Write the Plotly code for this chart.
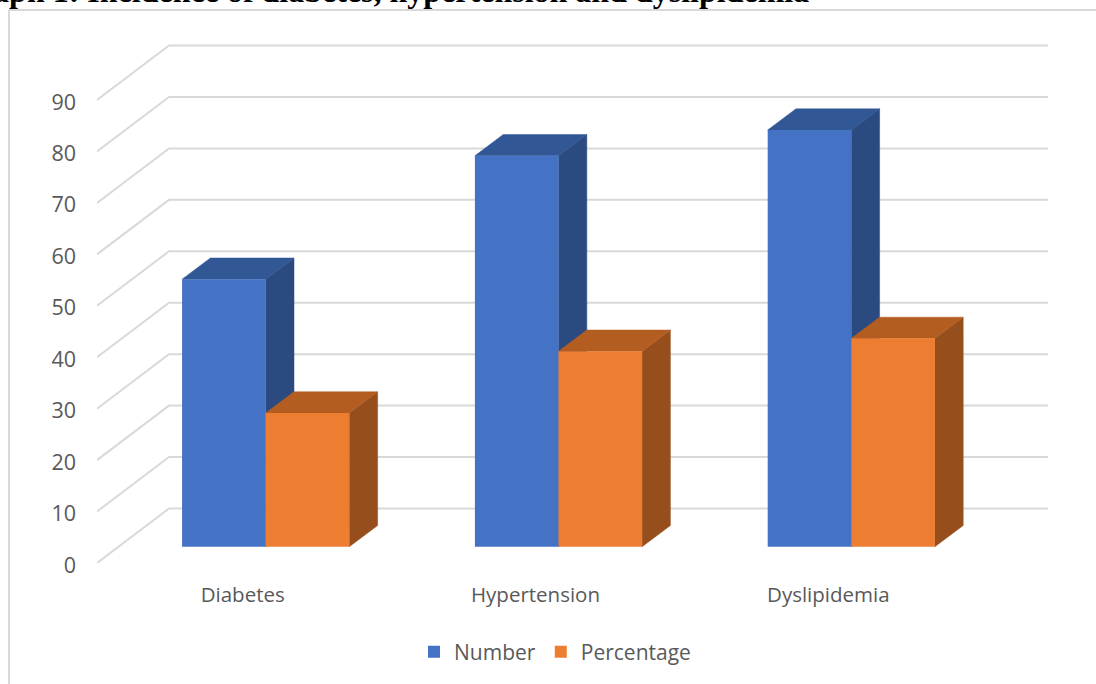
import plotly.graph_objects as go

# Chart data
categories = ["Diabetes", "Hypertension", "Dyslipidemia"]
number = [52, 76, 81]
percentage = [26, 38, 40.5]
y_ticks = [0, 10, 20, 30, 40, 50, 60, 70, 80, 90]

# Colours of the three visible faces of each column
BLUE = {"front": "#4472C4", "side": "#2A4A80", "top": "#325795"}
ORANGE = {"front": "#ED7D31", "side": "#964F1C", "top": "#B35D20"}
GRID = "#D9D9D9"
TEXT = "#595959"

# Page layout of the plot area, in pixels
W, H = 1096, 684
LEFT, RIGHT, TOP, BOTTOM = 97, 1048, 30, 563
ORIGIN_PX = 265.7        # pixel column of the first category's centre
CATEGORY_PX = 292.8      # pixels between categories
UNIT_PX = 5.144          # pixels per value unit

BAR_W = 83.6 / CATEGORY_PX
DEPTH_X = 28.3 / CATEGORY_PX
DEPTH_Y = 21.2 / UNIT_PX
WALL_X = 72 / CATEGORY_PX
WALL_Y = 54.5 / UNIT_PX
FLOOR_Y = 16.3 / UNIT_PX    # columns stand this far up the floor
LABEL_SHIFT = 23 / CATEGORY_PX

x_range = [(LEFT - ORIGIN_PX) / CATEGORY_PX, (RIGHT - ORIGIN_PX) / CATEGORY_PX]
y_span = (BOTTOM - TOP) / UNIT_PX


def paper_x(px):
    return (px - LEFT) / (RIGHT - LEFT)


def paper_y(px):
    return (BOTTOM - px) / (BOTTOM - TOP)


def gridlines():
    # Floor-to-wall diagonal plus horizontal back-wall line for every tick
    xs, ys = [], []
    for v in y_ticks:
        xs += [x_range[0], x_range[0] + WALL_X, x_range[1], None]
        ys += [v, v + WALL_Y, v + WALL_Y, None]
    return go.Scatter(x=xs, y=ys, mode="lines", cliponaxis=False,
                      line=dict(color=GRID, width=2), hoverinfo="skip", showlegend=False)


def face(xs, ys, color):
    return go.Scatter(x=xs, y=ys, mode="lines", fill="toself", fillcolor=color,
                      line=dict(color=color, width=0.5), hoverinfo="skip", showlegend=False)


def column_faces(left, value, colors):
    # Top and right-hand faces of one column, on the wall's value scale
    right = left + BAR_W
    base = FLOOR_Y
    peak = value + FLOOR_Y
    side = face([right, right + DEPTH_X, right + DEPTH_X, right, right],
                [base, base + DEPTH_Y, peak + DEPTH_Y, peak, base], colors["side"])
    top = face([left, left + DEPTH_X, right + DEPTH_X, right, left],
               [peak, peak + DEPTH_Y, peak + DEPTH_Y, peak, peak], colors["top"])
    return [side, top]


fig = go.Figure()
fig.add_trace(gridlines())

for i in range(len(categories)):
    fig.add_traces(column_faces(i - BAR_W, number[i], BLUE))
for i in range(len(categories)):
    fig.add_traces(column_faces(i, percentage[i], ORANGE))

# Front faces sit on an overlaid axis pair so they paint over the depth faces
x_pos = list(range(len(categories)))
fig.add_trace(go.Bar(x=x_pos, y=number, width=BAR_W, offset=-BAR_W, name="Number",
                     marker=dict(color=BLUE["front"], line_width=0), xaxis="x2", yaxis="y2"))
fig.add_trace(go.Bar(x=x_pos, y=percentage, width=BAR_W, offset=0, name="Percentage",
                     marker=dict(color=ORANGE["front"], line_width=0), xaxis="x2", yaxis="y2"))

# Light frame running off the page on the right and at the bottom
frame_line = dict(color=GRID, width=2)
frame = [
    dict(type="line", xref="paper", yref="paper", layer="below",
         x0=paper_x(9), x1=paper_x(W), y0=paper_y(10), y1=paper_y(10), line=frame_line),
    dict(type="line", xref="paper", yref="paper", layer="below",
         x0=paper_x(9), x1=paper_x(9), y0=paper_y(10), y1=paper_y(H), line=frame_line),
]

fig.update_layout(
    width=W, height=H,
    margin=dict(l=LEFT, r=W - RIGHT, t=TOP, b=H - BOTTOM),
    paper_bgcolor="white", plot_bgcolor="white",
    barmode="overlay",
    font=dict(family="Open Sans", color=TEXT, size=20),
    xaxis=dict(range=x_range, showgrid=False, zeroline=False, showline=False,
               tickmode="array", tickvals=[i - LABEL_SHIFT for i in x_pos], ticktext=categories,
               ticks="", ticklabelstandoff=17, tickfont=dict(size=20.5)),
    yaxis=dict(range=[0, y_span], showgrid=False, zeroline=False, showline=False,
               tickmode="array", tickvals=y_ticks, ticks="", ticklabelstandoff=20,
               ticklabelshift=2, tickfont=dict(size=21.5)),
    xaxis2=dict(range=x_range, overlaying="x", visible=False),
    yaxis2=dict(range=[-FLOOR_Y, y_span - FLOOR_Y], overlaying="y", visible=False),
    legend=dict(orientation="h", x=paper_x(555), xanchor="center",
                y=(H - 652) / H, yref="container", yanchor="middle",
                font=dict(size=21), traceorder="normal"),
    shapes=frame,
    annotations=[
        dict(text="<b>Graph 1: Incidence of diabetes, hypertension and dyslipidemia</b>",
             xref="paper", yref="paper", x=paper_x(811), xanchor="right",
             y=paper_y(11), yanchor="bottom", showarrow=False,
             font=dict(family="Liberation Serif", size=32, color="black")),
    ],
)

fig.write_html("out.html")
